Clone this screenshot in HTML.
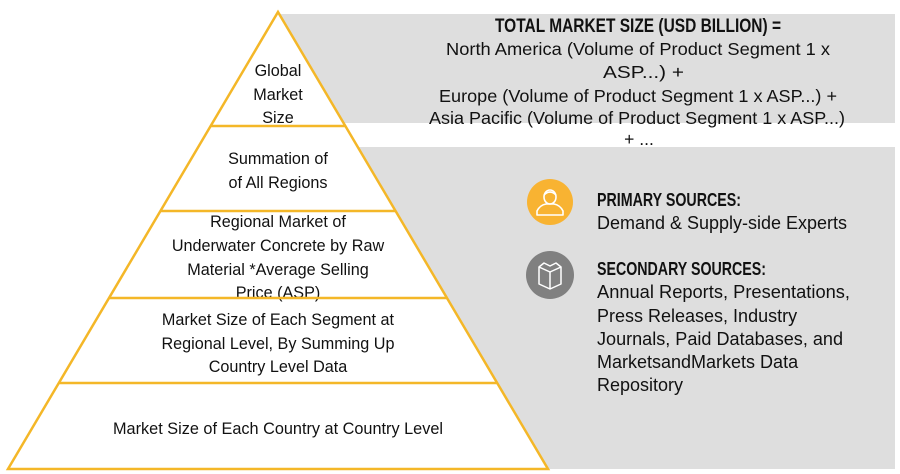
<!DOCTYPE html>
<html>
<head>
<meta charset="utf-8">
<style>
html,body{margin:0;padding:0;background:#fff;}
svg{display:block;}
text{font-family:"Liberation Sans",Arial,sans-serif;fill:#111;}
</style>
</head>
<body>
<svg width="900" height="474" viewBox="0 0 900 474" xmlns="http://www.w3.org/2000/svg">
  <!-- gray panels -->
  <rect x="278" y="14" width="617" height="109" fill="#dedede"/>
  <rect x="300" y="147" width="595" height="322" fill="#dedede"/>

  <!-- pyramid -->
  <polygon points="278,12 548,469 8,469" fill="#fff"/>

  <!-- pyramid text -->
  <g font-size="16.2" text-anchor="middle">
    <text x="278" y="76">Global</text>
    <text x="278" y="100">Market</text>
    <text x="278" y="123">Size</text>
    <text x="278" y="164">Summation of</text>
    <text x="278" y="188">of All Regions</text>
    <text x="278" y="227">Regional Market of</text>
    <text x="278" y="251">Underwater Concrete by Raw</text>
    <text x="278" y="275">Material *Average Selling</text>
    <text x="278" y="298">Price (ASP)</text>
    <text x="278" y="325">Market Size of Each Segment at</text>
    <text x="278" y="349">Regional Level, By Summing Up</text>
    <text x="278" y="372">Country Level Data</text>
    <text x="278" y="434" textLength="330" lengthAdjust="spacingAndGlyphs">Market Size of Each Country at Country Level</text>
  </g>

  <g stroke="#f4b728" stroke-width="2.5" fill="none" stroke-linejoin="miter">
    <polygon points="278,12 548,469 8,469"/>
    <line x1="210.6" y1="126" x2="345.4" y2="126"/>
    <line x1="160.4" y1="211" x2="395.6" y2="211"/>
    <line x1="109" y1="298" x2="447" y2="298"/>
    <line x1="58.8" y1="383" x2="497.2" y2="383"/>
  </g>

  <!-- formula text -->
  <g text-anchor="middle" font-size="17.5">
    <text x="638" y="32" font-weight="bold" font-size="19" textLength="286" lengthAdjust="spacingAndGlyphs">TOTAL MARKET SIZE (USD BILLION) =</text>
    <text x="638" y="55" textLength="384" lengthAdjust="spacingAndGlyphs">North America (Volume of Product Segment 1 x</text>
    <text x="643.5" y="78" textLength="81" lengthAdjust="spacingAndGlyphs">ASP...) +</text>
    <text x="638" y="102" textLength="398" lengthAdjust="spacingAndGlyphs">Europe (Volume of Product Segment 1 x ASP...) +</text>
    <text x="637" y="124" textLength="416" lengthAdjust="spacingAndGlyphs">Asia Pacific (Volume of Product Segment 1 x ASP...)</text>
    <text x="639" y="145">+ ...</text>
  </g>

  <!-- primary icon -->
  <circle cx="550" cy="202" r="23" fill="#f8b332"/>
  <g stroke="#fff" stroke-width="1.6" fill="none" stroke-linejoin="round">
    <ellipse cx="550" cy="197" rx="6" ry="7"/>
    <path d="M544,195 Q550,189 556,195"/>
    <path d="M537,215 L537,211 Q540,205 546,204 L554,204 Q560,205 563,211 L563,215 Z"/>
  </g>

  <!-- secondary icon -->
  <circle cx="550" cy="275" r="24" fill="#808080"/>
  <g stroke="#fff" stroke-width="1.5" fill="none" stroke-linejoin="round">
    <path d="M539,267 L550,272 L561,267 L561,284 L550,289 L539,284 Z"/>
    <line x1="550" y1="272" x2="550" y2="289"/>
    <path d="M539,267 L544,263 L550,266 L556,263 L561,267"/>
  </g>

  <!-- sources text -->
  <g font-size="18">
    <text x="597" y="206" font-weight="bold" font-size="18" textLength="144" lengthAdjust="spacingAndGlyphs">PRIMARY SOURCES:</text>
    <text x="597" y="229" textLength="250" lengthAdjust="spacingAndGlyphs">Demand &amp; Supply-side Experts</text>
    <text x="597" y="275" font-weight="bold" font-size="18" textLength="169" lengthAdjust="spacingAndGlyphs">SECONDARY SOURCES:</text>
    <text x="597" y="298" textLength="253" lengthAdjust="spacingAndGlyphs">Annual Reports, Presentations,</text>
    <text x="597" y="322">Press Releases, Industry</text>
    <text x="597" y="345" textLength="246" lengthAdjust="spacingAndGlyphs">Journals, Paid Databases, and</text>
    <text x="597" y="368">MarketsandMarkets Data</text>
    <text x="597" y="391">Repository</text>
  </g>
</svg>
</body>
</html>
